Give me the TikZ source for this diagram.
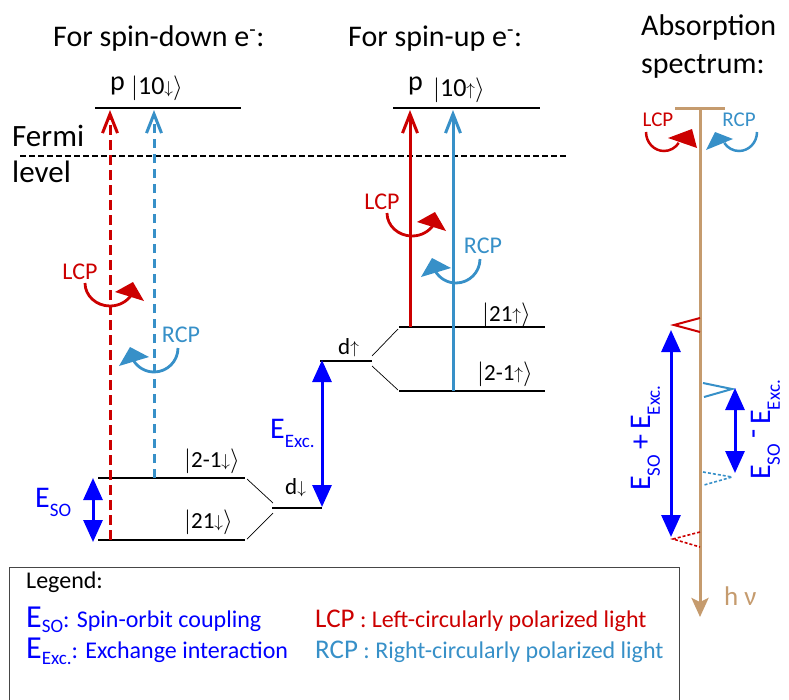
\documentclass[tikz,border=0pt]{standalone}
\usepackage{fontspec}
\usepackage{graphicx}
\setmainfont{Carlito}
\usetikzlibrary{arrows.meta}
\definecolor{cred}{RGB}{204,0,0}
\definecolor{clblue}{RGB}{55,144,200}
\definecolor{cblue}{RGB}{0,0,255}
\definecolor{ctan}{RGB}{197,155,110}
\definecolor{cbox}{RGB}{70,70,70}
\newcommand\fs[1]{\fontsize{#1}{#1}\selectfont}
\newcommand\ket[2]{$\vert$#1{\fs{16}\raisebox{0.05em}{$#2$}}$\rangle$}
\newcommand\lsub[2]{\raisebox{-0.33em}{\fs{#1}#2}}
\newcommand\dsub[3]{\raisebox{-#3}{\fs{#1}#2}}
\begin{document}
\begin{tikzpicture}[x=1pt,y=1pt,
  lvl/.style={line width=2.6pt, black},
  thinc/.style={line width=0.7pt, black},
  txt/.style={inner sep=0pt, anchor=base west},
  ctr/.style={inner sep=0pt, anchor=center},
  barb/.style={-{Straight Barb[length=19pt,width=15pt]}, line width=3pt},
  darr/.style={cblue, line width=3pt, {Triangle[length=22pt,width=19pt]}-{Triangle[length=22pt,width=19pt]}},
  carc/.style={line width=2.8pt},
  mk/.style={line width=2pt},
  mkd/.style={line width=1.6pt, dash pattern=on 3pt off 2pt}]
\useasboundingbox (0,0) rectangle (789,-699);

% titles
\node[txt, font=\fs{30}] (t1) at (53,-46) {For spin-down e\textsuperscript{-}:};
\node[txt, font=\fs{30}] (t2) at (348,-46) {For spin-up e\textsuperscript{-}:};
\node[txt, font=\fs{30}] (t3) at (641,-35) {Absorption};
\node[txt, font=\fs{30}] (t4) at (641,-73) {spectrum:};
\node[txt, font=\fs{31}] (f1) at (12,-146) {Fermi};
\node[txt, font=\fs{31}] (f2) at (12,-182) {level};

% Fermi level
\coordinate (fa) at (20,-156);
\coordinate (fb) at (568,-156);
\draw[line width=2pt, dash pattern=on 5.5pt off 3.5pt] (fa) -- (fb);

% spin-down levels
\coordinate (dp1) at (95,-108);   \coordinate (dp2) at (241,-108);
\coordinate (dm1) at (98,-478);   \coordinate (dm2) at (245,-478);
\coordinate (dl1) at (98,-540);   \coordinate (dl2) at (245,-540);
\coordinate (dd1) at (272,-508);  \coordinate (dd2) at (322,-508);
\draw[lvl] (dp1) -- (dp2);
\draw[lvl] (dm1) -- (dm2);
\draw[lvl] (dl1) -- (dl2);
\draw[lvl] (dd1) -- (dd2);
\draw[thinc] (247,-479) -- (273,-503);
\draw[thinc] (273,-513) -- (247,-539);

% spin-up levels
\coordinate (up1) at (393,-108);  \coordinate (up2) at (540,-108);
\coordinate (uh1) at (399,-327);  \coordinate (uh2) at (545,-327);
\coordinate (ul1) at (399,-391);  \coordinate (ul2) at (545,-391);
\coordinate (ud1) at (320,-361);  \coordinate (ud2) at (372,-361);
\draw[lvl] (up1) -- (up2);
\draw[lvl] (uh1) -- (uh2);
\draw[lvl] (ul1) -- (ul2);
\draw[lvl] (ud1) -- (ud2);
\draw[thinc] (372,-356) -- (398,-329);
\draw[thinc] (372,-366) -- (398,-390);

% level labels
\node[txt, font=\fs{28}] (p1) at (110,-90) {p};
\node[txt, font=\fs{26}] (k1) at (131,-94) {\ket{10}{\downarrow}};
\node[txt, font=\fs{28}] (p2) at (408,-90) {p};
\node[txt, font=\fs{26}] (k2) at (433,-96) {\ket{10}{\uparrow}};
\node[txt, font=\fs{23}] (k3) at (184,-467) {\ket{2-1}{\downarrow}};
\node[txt, font=\fs{23}] (k4) at (184,-528) {\ket{21}{\downarrow}};
\node[txt, font=\fs{23}] (k5) at (482,-321) {\ket{21}{\uparrow}};
\node[txt, font=\fs{23}] (k6) at (477,-380) {\ket{2-1}{\uparrow}};
\node[txt, font=\fs{23}] (dd) at (285,-494) {d{\fs{16}\raisebox{0.05em}{$\downarrow$}}};
\node[txt, font=\fs{23}] (du) at (338,-354) {d{\fs{16}\raisebox{0.05em}{$\uparrow$}}};

% transitions spin-down
\coordinate (ra0) at (110,-540); \coordinate (ra1) at (110,-110);
\coordinate (ba0) at (154,-478); \coordinate (ba1) at (154,-110);
\draw[barb, cred, dash pattern=on 10pt off 5pt] (ra0) -- (ra1);
\draw[barb, clblue, dash pattern=on 9pt off 6pt] (ba0) -- (ba1);
% transitions spin-up
\coordinate (rb0) at (410,-327); \coordinate (rb1) at (410,-110);
\coordinate (bb0) at (453,-391); \coordinate (bb1) at (453,-110);
\draw[barb, cred] (rb0) -- (rb1);
\draw[barb, clblue] (bb0) -- (bb1);

% energy arrows
\coordinate (so0) at (93,-478); \coordinate (so1) at (93,-542);
\draw[darr] (so0) -- (so1);
\node[txt, font=\fs{30}, text=cblue] (eso) at (35,-507) {E\lsub{19}{SO}};
\coordinate (ex0) at (322,-360); \coordinate (ex1) at (322,-507);
\draw[darr] (ex0) -- (ex1);
\node[txt, font=\fs{30}, text=cblue] (eex) at (270,-438) {E\lsub{19}{Exc.}};

% polarisation arrows, spin-down
\node[ctr, font=\fs{24}, text=cred] (l1) at (80,-272) {LCP};
\draw[carc, cred] (85,-283) arc[start angle=180, end angle=330, x radius=25, y radius=23];
\fill[cred] (115,-292) -- (133,-282) -- (144,-301) -- cycle;
\node[ctr, font=\fs{24}, text=clblue] (r1) at (181,-335) {RCP};
\draw[carc, clblue] (178,-348) arc[start angle=0, end angle=-150, radius=24];
\fill[clblue] (130,-347) -- (149,-357) -- (119,-366) -- cycle;
% spin-up
\node[ctr, font=\fs{24}, text=cred] (l2) at (382,-202) {LCP};
\draw[carc, cred] (387,-213) arc[start angle=180, end angle=330, x radius=25, y radius=23];
\fill[cred] (417,-222) -- (435,-212) -- (446,-231) -- cycle;
\node[ctr, font=\fs{24}, text=clblue] (r2) at (483,-246) {RCP};
\draw[carc, clblue] (480,-259) arc[start angle=0, end angle=-150, radius=24];
\fill[clblue] (432,-258) -- (451,-268) -- (421,-277) -- cycle;

% spectrum
\coordinate (s0) at (700,-108); \coordinate (s1) at (700,-617);
\draw[ctan, line width=3pt, -{Stealth[length=19pt,width=17pt,inset=4pt]}] (s0) -- (s1);
\draw[ctan, line width=3pt] (675,-108) -- (725,-108);
\node[txt, font=\fs{27}, text=ctan] (hn) at (724,-605) {h ν};
\node[ctr, font=\fs{21}, text=cred] (l3) at (658,-120) {LCP};
\draw[carc, cred, line width=2.5pt] (646,-132) arc[start angle=180, end angle=325, x radius=18, y radius=19];
\fill[cred] (668,-138) -- (692,-129) -- (697,-148) -- cycle;
\node[ctr, font=\fs{21}, text=clblue] (r3) at (739,-120) {RCP};
\draw[carc, clblue, line width=2.5pt] (757,-132) arc[start angle=0, end angle=-145, x radius=18, y radius=19];
\fill[clblue] (706,-150) -- (715,-132) -- (733,-139) -- cycle;

\draw[mk, cred] (700,-318) -- (674,-325) -- (700,-332);
\draw[mk, clblue] (703,-383) -- (732,-389) -- (704,-397);
\draw[mkd, clblue] (703,-472) -- (732,-477) -- (704,-485);
\draw[mkd, cred] (700,-532) -- (673,-539) -- (700,-547);

\coordinate (sp0) at (671,-330); \coordinate (sp1) at (671,-537);
\draw[darr] (sp0) -- (sp1);
\coordinate (sm0) at (735,-388); \coordinate (sm1) at (735,-473);
\draw[darr] (sm0) -- (sm1);
\node[inner sep=0pt, anchor=base, rotate=90, font=\fs{30}, text=cblue] (lp) at (650,-438) {E\lsub{19}{SO}\,+\,E\lsub{19}{Exc.}};
\node[inner sep=0pt, anchor=base, rotate=90, font=\fs{30}, text=cblue] (lm) at (770,-430) {E\lsub{19}{SO}\,\raisebox{0.25em}{-}\,E\lsub{19}{Exc.}};

% legend
\draw[cbox, line width=1pt] (9,-710) |- (679,-567) -- (679,-710);
\node[txt, font=\fs{24}] (lg) at (26,-588) {Legend:};
\node[txt, text=cblue] (lg1) at (26,-627) {{\fs{32}E\dsub{19}{SO}{5pt}}{\fs{24}: Spin-orbit coupling}};
\node[txt, text=cblue] (lg2) at (26,-658) {{\fs{32}E\dsub{19}{Exc.}{6pt}}{\fs{24}: Exchange interaction}};
\node[txt, text=cred] (lg3) at (315,-627) {{\fs{27}LCP}{\fs{24} : Left-circularly polarized light}};
\node[txt, text=clblue] (lg4) at (315,-658) {{\fs{27}RCP}{\fs{24} : Right-circularly polarized light}};
\end{tikzpicture}
\end{document}
